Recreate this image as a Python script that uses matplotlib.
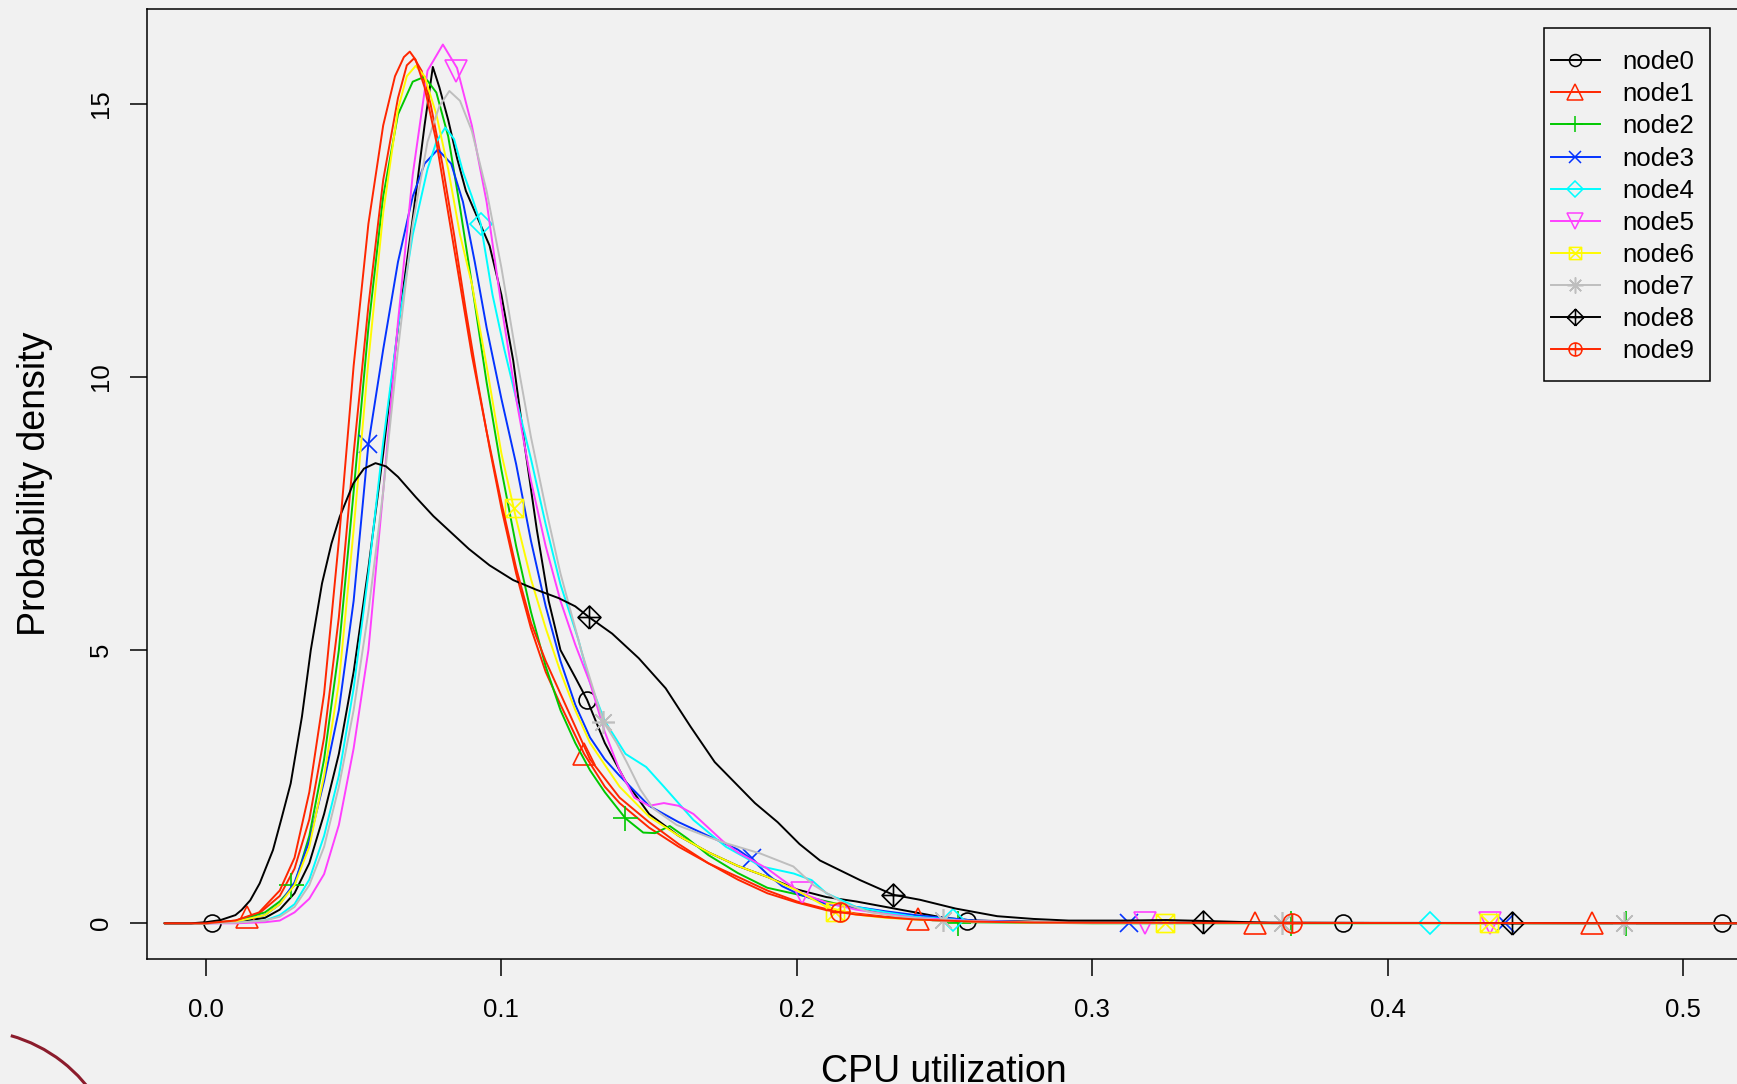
import numpy as np
import matplotlib
matplotlib.use("Agg")
import matplotlib.pyplot as plt
from matplotlib.path import Path
from matplotlib.lines import Line2D
from matplotlib.patches import Rectangle, Arc

# density curves (x = CPU utilization, y = density)
node0_x = [-0.014, 0.0, 0.01, 0.02, 0.025, 0.03, 0.035, 0.04, 0.045, 0.05, 0.055, 0.06, 0.065, 0.07, 0.074, 0.0768, 0.079, 0.082, 0.085, 0.088, 0.092, 0.096, 0.10, 0.104, 0.108, 0.112, 0.116, 0.12, 0.125, 0.129, 0.135, 0.142, 0.15, 0.16, 0.17, 0.18, 0.19, 0.20, 0.21, 0.22, 0.23, 0.24, 0.25, 0.26, 0.28, 0.30, 0.53]
node0_y = [0, 0, 0.02, 0.1, 0.25, 0.55, 1.1, 2.0, 3.1, 4.6, 6.5, 8.6, 10.9, 12.9, 14.6, 15.67, 15.3, 14.7, 14.0, 13.4, 12.9, 12.4, 11.5, 10.3, 8.7, 7.2, 5.9, 5.0, 4.5, 4.09, 3.3, 2.6, 2.0, 1.6, 1.3, 1.05, 0.85, 0.62, 0.48, 0.4, 0.3, 0.2, 0.1, 0.05, 0.03, 0.01, 0]

node1_x = [-0.014, 0.0, 0.01, 0.018, 0.025, 0.03, 0.035, 0.04, 0.045, 0.05, 0.055, 0.06, 0.065, 0.068, 0.0705, 0.073, 0.076, 0.08, 0.084, 0.088, 0.092, 0.096, 0.10, 0.105, 0.11, 0.115, 0.12, 0.128, 0.135, 0.14, 0.15, 0.16, 0.17, 0.18, 0.19, 0.20, 0.21, 0.22, 0.23, 0.24, 0.26, 0.28, 0.30, 0.53]
node1_y = [0, 0, 0.05, 0.18, 0.5, 1.0, 1.9, 3.4, 5.6, 8.6, 11.3, 13.6, 15.1, 15.7, 15.83, 15.6, 15.0, 13.9, 12.6, 11.2, 9.9, 8.7, 7.6, 6.4, 5.4, 4.6, 4.0, 3.1, 2.5, 2.2, 1.75, 1.4, 1.1, 0.85, 0.6, 0.4, 0.26, 0.18, 0.12, 0.08, 0.04, 0.02, 0.01, 0]

node2_x = [-0.014, 0.0, 0.01, 0.02, 0.025, 0.03, 0.035, 0.04, 0.045, 0.05, 0.055, 0.06, 0.065, 0.07, 0.074, 0.078, 0.082, 0.086, 0.09, 0.095, 0.10, 0.105, 0.11, 0.115, 0.12, 0.125, 0.13, 0.135, 0.142, 0.148, 0.152, 0.157, 0.163, 0.17, 0.18, 0.19, 0.20, 0.21, 0.22, 0.23, 0.24, 0.255, 0.28, 0.30, 0.53]
node2_y = [0, 0, 0.04, 0.2, 0.4, 0.7, 1.6, 3.0, 5.0, 7.9, 10.9, 13.3, 14.8, 15.4, 15.49, 15.2, 14.4, 13.1, 11.7, 9.9, 8.3, 6.9, 5.7, 4.7, 3.9, 3.3, 2.8, 2.4, 1.92, 1.66, 1.65, 1.78, 1.55, 1.25, 0.92, 0.65, 0.53, 0.4, 0.28, 0.17, 0.08, 0.02, 0.01, 0.0, 0]

node3_x = [-0.014, 0.0, 0.01, 0.02, 0.025, 0.03, 0.035, 0.04, 0.045, 0.05, 0.055, 0.06, 0.065, 0.07, 0.074, 0.0785, 0.083, 0.087, 0.091, 0.095, 0.10, 0.105, 0.11, 0.115, 0.12, 0.125, 0.13, 0.135, 0.14, 0.15, 0.16, 0.17, 0.18, 0.185, 0.19, 0.195, 0.20, 0.21, 0.22, 0.23, 0.24, 0.26, 0.28, 0.30, 0.53]
node3_y = [0, 0, 0.03, 0.15, 0.35, 0.75, 1.5, 2.6, 3.9, 5.9, 8.77, 10.5, 12.1, 13.3, 13.9, 14.16, 13.9, 13.2, 12.1, 10.9, 9.6, 8.4, 7.0, 5.8, 4.8, 4.0, 3.4, 3.0, 2.7, 2.15, 1.85, 1.6, 1.35, 1.16, 0.9, 0.68, 0.55, 0.35, 0.3, 0.22, 0.15, 0.05, 0.02, 0.01, 0]

node4_x = [-0.014, 0.0, 0.01, 0.02, 0.025, 0.03, 0.035, 0.04, 0.045, 0.05, 0.055, 0.06, 0.065, 0.07, 0.075, 0.078, 0.081, 0.084, 0.087, 0.09, 0.093, 0.097, 0.101, 0.105, 0.11, 0.115, 0.12, 0.126, 0.13, 0.135, 0.142, 0.149, 0.155, 0.165, 0.176, 0.188, 0.199, 0.205, 0.21, 0.22, 0.23, 0.24, 0.26, 0.28, 0.30, 0.53]
node4_y = [0, 0, 0.01, 0.05, 0.15, 0.35, 0.8, 1.6, 2.7, 4.3, 6.4, 8.8, 10.9, 12.6, 13.8, 14.3, 14.56, 14.35, 13.75, 13.3, 12.8, 11.5, 10.5, 9.6, 8.5, 7.3, 6.2, 5.2, 4.4, 3.7, 3.1, 2.86, 2.5, 1.89, 1.4, 1.04, 0.91, 0.79, 0.55, 0.3, 0.2, 0.12, 0.04, 0.02, 0.01, 0]

node5_x = [-0.014, 0.0, 0.01, 0.02, 0.025, 0.03, 0.035, 0.04, 0.045, 0.05, 0.055, 0.06, 0.065, 0.07, 0.075, 0.0802, 0.085, 0.09, 0.095, 0.10, 0.105, 0.11, 0.115, 0.12, 0.125, 0.13, 0.135, 0.14, 0.145, 0.15, 0.155, 0.16, 0.165, 0.17, 0.175, 0.18, 0.19, 0.195, 0.2017, 0.21, 0.22, 0.23, 0.24, 0.26, 0.28, 0.30, 0.53]
node5_y = [0, 0, 0.0, 0.02, 0.05, 0.2, 0.45, 0.9, 1.8, 3.2, 5.0, 7.9, 11.0, 13.7, 15.6, 16.08, 15.65, 14.6, 13.2, 11.3, 9.6, 8.1, 6.9, 5.9, 5.1, 4.4, 3.5, 2.8, 2.3, 2.15, 2.2, 2.15, 2.0, 1.75, 1.5, 1.3, 1.0, 0.8, 0.55, 0.38, 0.25, 0.17, 0.1, 0.04, 0.02, 0.01, 0]

node6_x = [-0.014, 0.0, 0.01, 0.02, 0.025, 0.03, 0.035, 0.04, 0.045, 0.05, 0.055, 0.06, 0.065, 0.068, 0.071, 0.074, 0.078, 0.082, 0.086, 0.09, 0.095, 0.10, 0.105, 0.11, 0.115, 0.12, 0.125, 0.13, 0.14, 0.15, 0.16, 0.17, 0.18, 0.19, 0.20, 0.21, 0.22, 0.23, 0.24, 0.26, 0.28, 0.30, 0.53]
node6_y = [0, 0, 0.03, 0.15, 0.35, 0.7, 1.4, 2.7, 4.4, 7.2, 10.3, 13.0, 14.9, 15.5, 15.69, 15.5, 14.8, 13.8, 12.6, 11.7, 10.2, 8.6, 7.4, 6.3, 5.4, 4.6, 3.9, 3.3, 2.5, 1.95, 1.6, 1.3, 1.05, 0.85, 0.6, 0.3, 0.16, 0.1, 0.07, 0.03, 0.015, 0.01, 0]

node7_x = [-0.014, 0.0, 0.01, 0.02, 0.025, 0.03, 0.035, 0.04, 0.045, 0.05, 0.055, 0.06, 0.065, 0.07, 0.075, 0.079, 0.0824, 0.086, 0.09, 0.095, 0.10, 0.105, 0.11, 0.115, 0.12, 0.127, 0.1345, 0.139, 0.1424, 0.147, 0.1514, 0.1593, 0.17, 0.1763, 0.1875, 0.1988, 0.2056, 0.2157, 0.225, 0.235, 0.25, 0.26, 0.28, 0.30, 0.53]
node7_y = [0, 0, 0.01, 0.05, 0.12, 0.3, 0.7, 1.4, 2.5, 3.9, 5.7, 7.9, 10.5, 12.8, 14.3, 14.95, 15.23, 15.05, 14.5, 13.4, 12.0, 10.4, 8.9, 7.6, 6.4, 5.0, 3.69, 3.3, 2.95, 2.45, 2.1, 1.8, 1.58, 1.46, 1.28, 1.04, 0.7, 0.37, 0.2, 0.12, 0.05, 0.03, 0.02, 0.01, 0]

node8_x = [-0.014, -0.005, 0.0, 0.005, 0.01, 0.0121, 0.015, 0.0182, 0.0227, 0.0255, 0.0287, 0.0325, 0.0355, 0.0393, 0.0425, 0.0453, 0.0499, 0.0535, 0.0574, 0.061, 0.065, 0.071, 0.077, 0.083, 0.089, 0.096, 0.104, 0.112, 0.1194, 0.125, 0.1297, 0.1375, 0.1465, 0.1556, 0.164, 0.1722, 0.1858, 0.1935, 0.2009, 0.2078, 0.2214, 0.2327, 0.2417, 0.2537, 0.2678, 0.28, 0.292, 0.31, 0.325, 0.34, 0.36, 0.53]
node8_y = [0, 0, 0.02, 0.06, 0.15, 0.245, 0.42, 0.73, 1.34, 1.9, 2.56, 3.78, 5.0, 6.22, 6.95, 7.44, 8.05, 8.32, 8.42, 8.36, 8.17, 7.8, 7.45, 7.15, 6.85, 6.55, 6.28, 6.1, 5.95, 5.8, 5.6, 5.3, 4.85, 4.3, 3.6, 2.95, 2.2, 1.85, 1.45, 1.15, 0.79, 0.52, 0.43, 0.27, 0.13, 0.08, 0.05, 0.05, 0.06, 0.04, 0.01, 0]

node9_x = [-0.014, 0.0, 0.01, 0.018, 0.025, 0.03, 0.035, 0.04, 0.045, 0.05, 0.055, 0.06, 0.064, 0.067, 0.069, 0.071, 0.074, 0.078, 0.082, 0.086, 0.09, 0.095, 0.10, 0.105, 0.11, 0.115, 0.12, 0.125, 0.13, 0.14, 0.15, 0.16, 0.17, 0.18, 0.19, 0.20, 0.21, 0.22, 0.23, 0.24, 0.26, 0.28, 0.30, 0.53]
node9_y = [0, 0, 0.05, 0.2, 0.6, 1.2, 2.4, 4.2, 7.0, 10.2, 12.8, 14.6, 15.5, 15.85, 15.95, 15.8, 15.3, 14.3, 13.0, 11.7, 10.4, 9.0, 7.7, 6.5, 5.5, 4.8, 4.2, 3.6, 3.0, 2.3, 1.85, 1.45, 1.1, 0.8, 0.55, 0.38, 0.24, 0.16, 0.11, 0.07, 0.03, 0.015, 0.01, 0]

# point symbols along each curve
node0_mx = [0.002, 0.1289, 0.2577, 0.3847, 0.5132]
node0_my = [0.0, 4.09, 0.05, 0.0, 0.0]
node1_mx = [0.014, 0.128, 0.2409, 0.3552, 0.4691]
node1_my = [0.12, 3.1, 0.08, 0.0, 0.0]
node2_mx = [0.0287, 0.1419, 0.2547, 0.3673, 0.4806]
node2_my = [0.7, 1.92, 0.01, 0.0, 0.0]
node3_mx = [0.055, 0.1847, 0.3123, 0.4398]
node3_my = [8.77, 1.19, 0.0, 0.0]
node4_mx = [0.093, 0.2527, 0.4141]
node4_my = [12.8, 0.06, 0.0]
node5_mx = [0.0848, 0.2017, 0.3178, 0.4347]
node5_my = [15.6, 0.55, 0.0, 0.0]
node6_mx = [0.1043, 0.2129, 0.3247, 0.4341]
node6_my = [7.6, 0.21, 0.0, 0.0]
node7_mx = [0.1345, 0.2496, 0.3641, 0.4798]
node7_my = [3.69, 0.06, 0.0, 0.0]
node8_mx = [0.1297, 0.2327, 0.3376, 0.442]
node8_my = [5.6, 0.52, 0.02, 0.0]
node9_mx = [0.2146, 0.3675]
node9_my = [0.21, 0.0]

labels = ["node0", "node1", "node2", "node3", "node4",
          "node5", "node6", "node7", "node8", "node9"]
colors = ["#000000", "#ff2600", "#00c800", "#0433ff", "#00fdff",
          "#ff40ff", "#fffb00", "#bebebe", "#000000", "#ff2600"]

xticks = [0.0, 0.1, 0.2, 0.3, 0.4, 0.5]
yticks = [0, 5, 10, 15]

curves_x = [node0_x, node1_x, node2_x, node3_x, node4_x, node5_x, node6_x, node7_x, node8_x, node9_x]
curves_y = [node0_y, node1_y, node2_y, node3_y, node4_y, node5_y, node6_y, node7_y, node8_y, node9_y]
marks_x = [node0_mx, node1_mx, node2_mx, node3_mx, node4_mx, node5_mx, node6_mx, node7_mx, node8_mx, node9_mx]
marks_y = [node0_my, node1_my, node2_my, node3_my, node4_my, node5_my, node6_my, node7_my, node8_my, node9_my]

# R style pch 1..10
M, L = Path.MOVETO, Path.LINETO
box_x = Path([(-1, -1), (1, -1), (1, 1), (-1, 1), (-1, -1), (-1, -1), (1, 1), (-1, 1), (1, -1)],
             [M, L, L, L, L, M, L, M, L])
diamond_plus = Path([(0, -1), (1, 0), (0, 1), (-1, 0), (0, -1), (0, -1), (0, 1), (-1, 0), (1, 0)],
                    [M, L, L, L, L, M, L, M, L])
circle_plus = Path.make_compound_path(Path.unit_circle(),
                                      Path([(-1, 0), (1, 0)], [M, L]),
                                      Path([(0, -1), (0, 1)], [M, L]))
markers = ["o", "^", "+", "x", "D", "v", box_x, (8, 2, 0), diamond_plus, circle_plus]
msize = [12.2, 15.5, 18, 13, 11.7, 15.5, 13, 16.5, 16.5, 13.7]
leg_msize = [8.6, 11.5, 12, 9, 8.4, 11.5, 8.8, 11.5, 11.9, 9.4]

plt.rcParams['font.family'] = ['Liberation Sans', 'DejaVu Sans']
bg = "#f1f1f1"

fig = plt.figure(figsize=(17.37, 10.84), dpi=100, facecolor=bg)
W, H = 1737.0, 1084.0
ax = fig.add_axes([146.5 / W, (H - 959) / H, (1740.5 - 146.5) / W, (959 - 9) / H])
ax.set_facecolor(bg)

for i in range(10):
    ax.plot(curves_x[i], curves_y[i], color=colors[i], lw=1.4,
            solid_joinstyle="round", solid_capstyle="round")
    ax.plot(marks_x[i], marks_y[i], ls="none", marker=markers[i], ms=msize[i],
            mfc="none", mec=colors[i], mew=1.2)

ax.set_xlim(-0.0201, 0.51935)
ax.set_ylim(-0.6533, 16.73)
ax.set_xticks(xticks)
ax.set_xticklabels(["%.1f" % t for t in xticks])
ax.set_yticks(yticks)
ax.set_yticklabels([str(t) for t in yticks])
ax.tick_params(axis="both", direction="out", length=12.2, width=1.1, labelsize=18.5, colors="black")
ax.tick_params(axis="x", pad=16)
ax.tick_params(axis="y", pad=11.7)
for lb in ax.get_yticklabels():
    lb.set_rotation(90)
    lb.set_va("center")
for sp in ax.spines.values():
    sp.set_linewidth(1.1)

fig.text(943.5 / W, (H - 1082) / H, "CPU utilization", fontsize=27, ha="center", va="baseline")
fig.text(35 / W, 1 - 484 / H, "Probability density", fontsize=27, rotation=90, ha="center", va="center")

# legend
handles = [Line2D([], [], color=colors[i], lw=1.4, marker=markers[i], ms=leg_msize[i],
                  mfc="none", mec=colors[i], mew=1.1) for i in range(10)]
ax.legend(handles, labels, loc="upper left", bbox_to_anchor=(1550.7 / W, 1 - 50.2 / H),
          bbox_transform=fig.transFigure, frameon=False, fontsize=18.6, borderpad=0,
          borderaxespad=0, handlelength=1.91, handletextpad=0.88, labelspacing=0.315)
fig.add_artist(Rectangle((1544 / W, (H - 380.7) / H), 165.7 / W, 352.7 / H,
                         transform=fig.transFigure, fill=False, ec="black", lw=1.1, zorder=5))

# bit of the seal in the bottom-left corner
fig.add_artist(Arc((-30 / W, -96 / H), 300 / W, 300 / H, theta1=43, theta2=80,
                   transform=fig.transFigure, color="#8b1c2c", lw=2.2))

fig.savefig("out.png", dpi=100, facecolor=bg)
